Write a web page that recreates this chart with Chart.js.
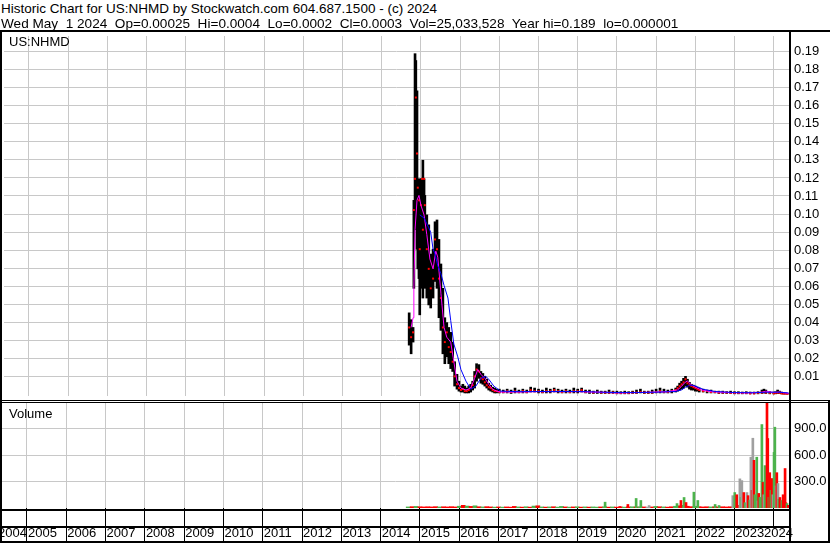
<!DOCTYPE html>
<html><head><meta charset="utf-8">
<script src="https://cdn.jsdelivr.net/npm/chart.js@4"></script>
<style>
html,body{margin:0;padding:0;background:#fff;}
body{width:830px;height:543px;position:relative;overflow:hidden;font-family:"Liberation Sans",Arial,sans-serif;color:#000;}
.t{position:absolute;white-space:pre;font-size:13px;line-height:15px;z-index:5;}
.k{position:absolute;background:#000;z-index:4;}
canvas{position:absolute;left:0;}
</style></head><body>
<div class="t" style="left:1px;top:1px;font-size:13.5px;">Historic Chart for US:NHMD by Stockwatch.com 604.687.1500 - (c) 2024</div>
<div class="t" style="left:1px;top:16px;font-size:13.6px;">Wed May  1 2024  Op=0.00025  Hi=0.0004  Lo=0.0002  Cl=0.0003  Vol=25,033,528  Year hi=0.189  lo=0.000001</div>
<canvas id="pc" width="830" height="368" style="top:32px"></canvas>
<canvas id="vc" width="830" height="140" style="top:403px"></canvas>
<div class="t" style="left:9px;top:34px;">US:NHMD</div>
<div class="t" style="left:9px;top:406px;">Volume</div>
<div class="k" style="left:0;top:30px;width:830px;height:2px"></div>
<div class="k" style="left:0;top:30px;width:2px;height:513px"></div>
<div class="k" style="left:789px;top:32px;width:2px;height:511px"></div>
<div class="k" style="left:0;top:400px;width:830px;height:1px"></div>
<div class="k" style="left:0;top:402px;width:830px;height:1px"></div>
<div class="k" style="left:0;top:509px;width:791px;height:2px"></div>
<div class="k" style="left:0;top:526px;width:791px;height:2px"></div>
<div class="k" style="left:0;top:541px;width:830px;height:2px"></div>
<div class="k" style="left:828px;top:400px;width:2px;height:143px"></div>
<script>
// ---------- data ----------
const gridYears = [2005,2006,2007,2008,2009,2010,2011,2012,2013,2014,2015,2016,2017,2018,2019,2020,2021,2022,2023,2024];
const yearLabels = ['2004','2005','2006','2007','2008','2009','2010','2011','2012','2013','2014','2015','2016','2017','2018','2019','2020','2021','2022','2023','2024'];
const yearLabelPos = [2004.237,2005,2006,2007,2008,2009,2010,2011,2012,2013,2014,2015,2016,2017,2018,2019,2020,2021,2022,2023,2023.728];
const priceTicks = [0.01,0.02,0.03,0.04,0.05,0.06,0.07,0.08,0.09,0.10,0.11,0.12,0.13,0.14,0.15,0.16,0.17,0.18,0.19];
const volTicks = [300,600,900];

const pDates = [2014.70,2014.75,2014.80,2014.82,2014.85,2014.87,2014.90,2014.92,2014.95,2014.97,
2015.00,2015.03,2015.05,2015.08,2015.10,2015.15,2015.20,2015.25,2015.31,2015.36,
2015.41,2015.46,2015.51,2015.56,2015.61,2015.66,2015.71,2015.76,2015.81,2015.86,
2015.92,2015.97,2016.02,2016.07,2016.12,2016.17,2016.22,2016.27,2016.32,2016.37,
2016.42,2016.48,2016.53,2016.58,2016.63,2016.68,2016.73,2016.78,2016.83,2016.88,
2016.93,
2017.0,2017.1,2017.2,2017.3,2017.4,2017.5,2017.6,2017.7,2017.8,2017.9,
2018.0,2018.1,2018.2,2018.3,2018.4,2018.5,2018.6,2018.7,2018.8,2018.9,
2019.0,2019.1,2019.2,2019.3,2019.4,2019.5,2019.6,2019.7,2019.8,2019.9,
2020.0,2020.1,2020.2,2020.3,2020.4,2020.5,2020.6,2020.7,2020.8,2020.9,
2021.0,2021.1,2021.2,2021.3,2021.4,2021.5,2021.55,2021.6,2021.65,2021.7,2021.75,2021.8,2021.85,2021.9,2021.95,
2022.0,2022.05,2022.1,2022.2,2022.3,2022.4,2022.5,2022.6,2022.7,2022.8,2022.9,
2023.0,2023.1,2023.2,2023.3,2023.4,2023.5,2023.6,2023.7,2023.75,2023.8,2023.9,
2024.0,2024.05,2024.1,2024.15,2024.2,2024.25,2024.3,2024.35];

const pHigh = [.0452,.0414,.0371,.1076,.1889,.1851,.1683,.1195,.1146,.1195,
.1195,.1195,.1298,.1195,.1103,.0995,.0940,.0778,.0805,.0957,
.0967,.0859,.0723,.0588,.0425,.0398,.0371,.0344,.0290,.0181,
.0111,.0073,.0046,.0056,.0046,.0035,.0046,.0056,.0073,.0127,
.0170,.0165,.0127,.0116,.0100,.0084,.0062,.0051,.0040,.0035,
.0029,
.0029,.0024,.0029,.0024,.0035,.0024,.0029,.0024,.0040,.0035,
.0029,.0024,.0035,.0029,.0035,.0029,.0024,.0029,.0024,.0035,
.0029,.0035,.0024,.0024,.0018,.0024,.0018,.0018,.0024,.0018,
.0018,.0015,.0018,.0015,.0018,.0024,.0029,.0018,.0018,.0024,
.0029,.0035,.0029,.0024,.0029,.0035,.0046,.0062,.0073,.0089,.0100,.0084,.0067,.0056,.0051,
.0046,.0040,.0035,.0029,.0024,.0024,.0018,.0018,.0018,.0015,.0018,
.0015,.0015,.0013,.0015,.0013,.0013,.0015,.0024,.0029,.0024,.0015,
.0013,.0015,.0024,.0018,.0013,.0010,.0008,.0005];

const pLow = [.0273,.0225,.0290,.0588,.0995,.0913,.0805,.0696,.0642,.0441,
.0588,.0750,.0534,.0642,.0588,.0534,.0496,.0479,.0534,.0626,
.0588,.0425,.0355,.0225,.0170,.0208,.0170,.0143,.0127,.0046,
.0029,.0018,.0013,.0013,.0008,.0008,.0008,.0013,.0024,.0035,
.0073,.0089,.0062,.0056,.0046,.0035,.0024,.0018,.0013,.0008,
.0008,
.0008,.0008,.0008,.0005,.0008,.0008,.0008,.0008,.0013,.0013,
.0008,.0008,.0008,.0008,.0013,.0008,.0008,.0008,.0008,.0008,
.0008,.0013,.0008,.0005,.0005,.0005,.0005,.0005,.0005,.0005,
.0003,.0003,.0003,.0003,.0005,.0005,.0008,.0005,.0005,.0005,
.0008,.0008,.0008,.0008,.0008,.0013,.0018,.0024,.0029,.0035,.0046,.0040,.0029,.0024,.0024,
.0018,.0018,.0013,.0013,.0008,.0008,.0008,.0005,.0005,.0005,.0005,
.0003,.0003,.0003,.0003,.0003,.0003,.0003,.0005,.0008,.0005,.0003,
.0003,.0003,.0005,.0005,.0003,.0002,.0002,.0002];

const pClose = [.0371,.0317,.0344,.1022,.1195,.1646,.1336,.1146,.1076,.0805,
.1049,.1195,.0913,.1195,.1049,.0805,.0696,.0588,.0642,.0859,
.0805,.0642,.0534,.0371,.0290,.0344,.0262,.0235,.0181,.0100,
.0056,.0035,.0024,.0029,.0018,.0018,.0024,.0035,.0051,.0100,
.0138,.0127,.0089,.0084,.0067,.0051,.0040,.0035,.0024,.0018,
.0018,
.0013,.0013,.0018,.0013,.0018,.0013,.0018,.0013,.0024,.0018,
.0018,.0013,.0018,.0018,.0024,.0018,.0013,.0018,.0013,.0018,
.0018,.0024,.0013,.0013,.0010,.0013,.0010,.0010,.0010,.0010,
.0008,.0008,.0008,.0008,.0010,.0010,.0013,.0010,.0010,.0010,
.0013,.0018,.0013,.0013,.0018,.0024,.0035,.0046,.0056,.0067,.0084,.0062,.0051,.0046,.0040,
.0035,.0029,.0024,.0018,.0018,.0013,.0013,.0010,.0010,.0010,.0008,
.0008,.0008,.0008,.0008,.0005,.0005,.0008,.0010,.0013,.0010,.0008,
.0005,.0008,.0010,.0008,.0005,.0004,.0004,.0003];

// short moving average (magenta)
const maShortDates = [2014.75,2014.80,2014.82,2014.85,2014.90,2014.95,2015.00,2015.08,2015.15,2015.23,
2015.31,2015.38,2015.43,2015.51,2015.59,2015.66,2015.76,2015.84,2015.92,2016.02,
2016.15,2016.27,2016.37,2016.45,2016.53,2016.63,2016.73,2016.83,2016.93,2017.03,
2017.5,2018.0,2018.5,2019.0,2019.5,2020.0,2020.5,2021.0,2021.3,2021.55,
2021.65,2021.73,2021.8,2021.88,2022.0,2022.15,2022.4,2022.8,2023.3,2023.7,
2023.8,2024.0,2024.15,2024.38];
const maShortVals = [.0371,.0425,.0588,.0913,.1076,.1103,.1049,.0995,.0886,.0750,
.0696,.0794,.0761,.0561,.0371,.0317,.0290,.0181,.0073,.0035,
.0024,.0035,.0089,.0138,.0111,.0089,.0056,.0029,.0018,.0013,
.0013,.0015,.0015,.0015,.0012,.0008,.0010,.0013,.0015,.0025,
.0045,.0065,.0075,.0055,.0040,.0025,.0015,.0010,.0008,.0012,
.0018,.0010,.0013,.0005];

// long moving average (blue)
const maLongDates = [2014.97,2015.08,2015.15,2015.20,2015.25,2015.31,2015.36,2015.43,2015.51,2015.59,
2015.69,2015.76,2015.84,2015.94,2016.02,2016.15,2016.27,2016.40,2016.53,2016.65,
2016.73,2016.86,2017.03,2017.5,2018.0,2018.5,2019.0,2019.5,2020.0,2020.5,
2021.0,2021.5,2021.65,2021.75,2021.85,2021.95,2022.05,2022.2,2022.5,2023.0,
2023.5,2023.8,2024.1,2024.38];
const maLongVals = [.0995,.0978,.0946,.0924,.0897,.0805,.0778,.0713,.0669,.0604,
.0534,.0409,.0279,.0208,.0138,.0073,.0029,.0046,.0089,.0100,
.0084,.0046,.0018,.0015,.0016,.0016,.0016,.0013,.0010,.0010,
.0012,.0016,.0025,.0040,.0050,.0050,.0042,.0028,.0016,.0010,
.0009,.0012,.0012,.0008];

// volume (baseline, coarse)
const volDatesA = [2014.7,2014.8,2014.9,2015.0,2015.1,2015.2,2015.3,2015.4,2015.5,2015.6,
2015.7,2015.8,2015.9,2016.0,2016.1,2016.2,2016.3,2016.4,2016.5,2016.6,
2016.7,2016.8,2016.9,2017.0,2017.1,2017.2,2017.3,2017.4,2017.5,2017.6,
2017.7,2017.8,2017.9,2018.0,2018.1,2018.2,2018.3,2018.4,2018.5,2018.6,
2018.7,2018.8,2018.9,2019.0,2019.1,2019.2,2019.3,2019.4,2019.5,2019.6,
2019.7,2019.8,2019.9,2020.0,2020.1,2020.2,2020.3,2020.4,2020.5,2020.6,
2020.7,2020.8,2020.9,2021.0,2021.1,2021.2,2021.3,2021.4,2021.5,2021.6,
2021.7,2021.8,2021.9,2022.0,2022.1,2022.2,2022.3,2022.4,2022.5,2022.6,
2022.7,2022.8,2022.9];
const volValsA = [12,15,18,14,12,14,12,15,12,14,
12,15,12,20,30,22,18,25,14,12,
15,12,10,12,10,12,10,18,12,10,
14,10,22,25,12,10,12,14,10,18,
12,10,12,14,10,12,10,12,10,12,
14,10,12,10,12,10,12,14,12,14,
12,10,12,18,14,12,10,14,20,25,
30,20,15,20,15,12,14,12,14,12,
14,12,14];
const volDirA = ['u','d','u','d','d','d','d','d','u','d',
'd','d','d','u','d','u','d','u','d','u',
'd','d','u','d','u','d','d','d','u','d',
'u','d','u','d','u','d','u','d','u','u',
'd','u','d','u','d','u','d','u','u','d',
'u','d','u','d','d','u','d','u','d','u',
'd','n','d','u','d','u','d','d','u','d',
'u','d','d','u','d','d','d','u','d','d',
'd','d','d'];

// volume (detailed)
const volDatesB = [2019.71,2020.09,2020.29,2020.50,2020.62,2020.83,2021.54,2021.64,2021.72,2021.77,
2021.97,2022.07,2022.51,2022.61,2022.96,2023.01,2023.06,2023.11,2023.14,2023.17,
2023.19,2023.24,2023.27,2023.32,2023.35,2023.39,2023.42,2023.45,2023.47,2023.50,
2023.52,2023.57,2023.60,2023.62,2023.65,2023.70,2023.73,2023.75,2023.78,2023.83,
2023.85,2023.88,2023.90,2023.93,2023.96,2023.98,2024.01,2024.03,2024.06,2024.08,
2024.11,2024.13,2024.16,2024.19,2024.21,2024.24,2024.26,2024.29,2024.31,2024.34,
2024.37];
const volValsB = [66,17,40,108,85,28,50,85,119,62,
179,85,40,28,140,175,150,30,330,120,
310,175,60,175,140,90,575,200,790,540,
150,575,80,165,120,945,290,150,480,1300,
787,120,400,200,334,150,630,915,250,400,
277,100,119,60,85,150,40,447,60,50,
30];
const volDirB = ['u','d','d','u','u','n','u','d','u','d',
'u','u','u','u','n','u','d','d','n','u',
'n','d','u','n','d','u','n','d','n','d',
'u','u','n','d','u','u','d','n','u','d',
'd','u','d','u','d','n','u','u','n','d',
'n','u','d','d','u','d','d','d','d','u',
'd'];

// ---------- rendering ----------
const X_MIN = 2004.364, X_MAX = 2024.39;
const GRID = '#c8c8c8';
const DIRCOL = {u:'#4cb34c', d:'#ff0000', n:'#a0a0a0'};
Chart.defaults.font.family = '"Liberation Sans", Arial, sans-serif';
Chart.defaults.font.size = 13;
Chart.defaults.color = '#000';

const pts = (xs, ys) => xs.map((x, i) => ({x: x, y: ys[i]}));
const fixAxis = (w, h) => (s) => {
  if (w !== null) s.width = w;
  if (h !== null) s.height = h;
  s.paddingLeft = 0; s.paddingRight = 0; s.paddingTop = 0; s.paddingBottom = 0;
};
const setTicks = (vals) => (s) => { s.ticks = vals.map(v => ({value: v})); };

new Chart(document.getElementById('pc'), {
  type: 'bar',
  data: {
    datasets: [
      {type: 'line', data: pts(maLongDates, maLongVals), borderColor: '#0000ff', borderWidth: 1, pointRadius: 0, tension: 0, order: 1},
      {type: 'line', data: pts(maShortDates, maShortVals), borderColor: '#ff00ff', borderWidth: 1, pointRadius: 0, tension: 0, order: 2},
      {type: 'scatter', data: pts(pDates, pClose), pointStyle: 'rect', pointRadius: 1.4, backgroundColor: '#ff0000', borderWidth: 0, order: 3},
      {type: 'bar', data: pDates.map((x, i) => ({x: x, y: [pLow[i], pHigh[i]]})), backgroundColor: '#000000', barThickness: 2, grouped: false, order: 4}
    ]
  },
  options: {
    responsive: false, animation: false, events: [],
    layout: {padding: {left: 2, right: 0, top: 0, bottom: 0}},
    plugins: {legend: {display: false}, tooltip: {enabled: false}},
    scales: {
      x: {type: 'linear', min: X_MIN, max: X_MAX, offset: false,
          grid: {color: GRID, drawTicks: false, offset: false}, border: {display: false},
          ticks: {display: false}, afterBuildTicks: setTicks(gridYears), afterFit: fixAxis(null, 0)},
      y: {type: 'linear', position: 'right', min: -0.0009, max: 0.1987,
          grid: {color: GRID, drawTicks: false}, border: {display: false},
          ticks: {padding: 5, autoSkip: false, callback: (v) => Number(v).toFixed(2)},
          afterBuildTicks: setTicks(priceTicks), afterFit: fixAxis(41, null)}
    }
  }
});

const sepPlugin = {
  id: 'sep',
  afterDraw(chart) {
    const ctx = chart.ctx, xs = chart.scales.x;
    ctx.save();
    ctx.fillStyle = '#000';
    for (let i = 0; i < gridYears.length - 1; i++) {
      const px = Math.round(xs.getPixelForValue(gridYears[i]) - 0.5);
      ctx.fillRect(px, 123, 1, 17);
    }
    ctx.restore();
  }
};

new Chart(document.getElementById('vc'), {
  type: 'bar',
  data: {
    datasets: [
      {data: pts(volDatesB, volValsB), backgroundColor: volDirB.map(d => DIRCOL[d]), barThickness: 2, grouped: false, order: 1},
      {data: pts(volDatesA, volValsA), backgroundColor: volDirA.map(d => DIRCOL[d]), barThickness: 4, grouped: false, order: 2}
    ]
  },
  options: {
    responsive: false, animation: false, events: [],
    layout: {padding: {left: 2, right: 0, top: 0, bottom: 0}},
    plugins: {legend: {display: false}, tooltip: {enabled: false}},
    scales: {
      x: {type: 'linear', min: X_MIN, max: X_MAX, offset: false, weight: 0,
          grid: {color: GRID, drawTicks: true, tickLength: 18, tickColor: '#000', offset: false},
          border: {display: false}, ticks: {display: false},
          afterBuildTicks: setTicks(gridYears), afterFit: fixAxis(null, 18)},
      xl: {type: 'linear', position: 'bottom', axis: 'x', min: X_MIN, max: X_MAX, offset: false, weight: 1,
          grid: {display: false, drawTicks: false, tickLength: 0}, border: {display: false},
          ticks: {display: true, align: 'start', padding: 0, labelOffset: 1, autoSkip: false, maxRotation: 0, minRotation: 0,
                  callback: (v, i) => yearLabels[i]},
          afterBuildTicks: setTicks(yearLabelPos), afterFit: fixAxis(null, 17)},
      y: {type: 'linear', position: 'right', min: 0, max: 1189,
          grid: {color: GRID, drawTicks: false}, border: {display: false},
          ticks: {padding: 5, autoSkip: false, callback: (v) => Number(v).toFixed(1)},
          afterBuildTicks: setTicks(volTicks), afterFit: fixAxis(41, null)}
    }
  },
  plugins: [sepPlugin]
});
</script>
</body></html>
